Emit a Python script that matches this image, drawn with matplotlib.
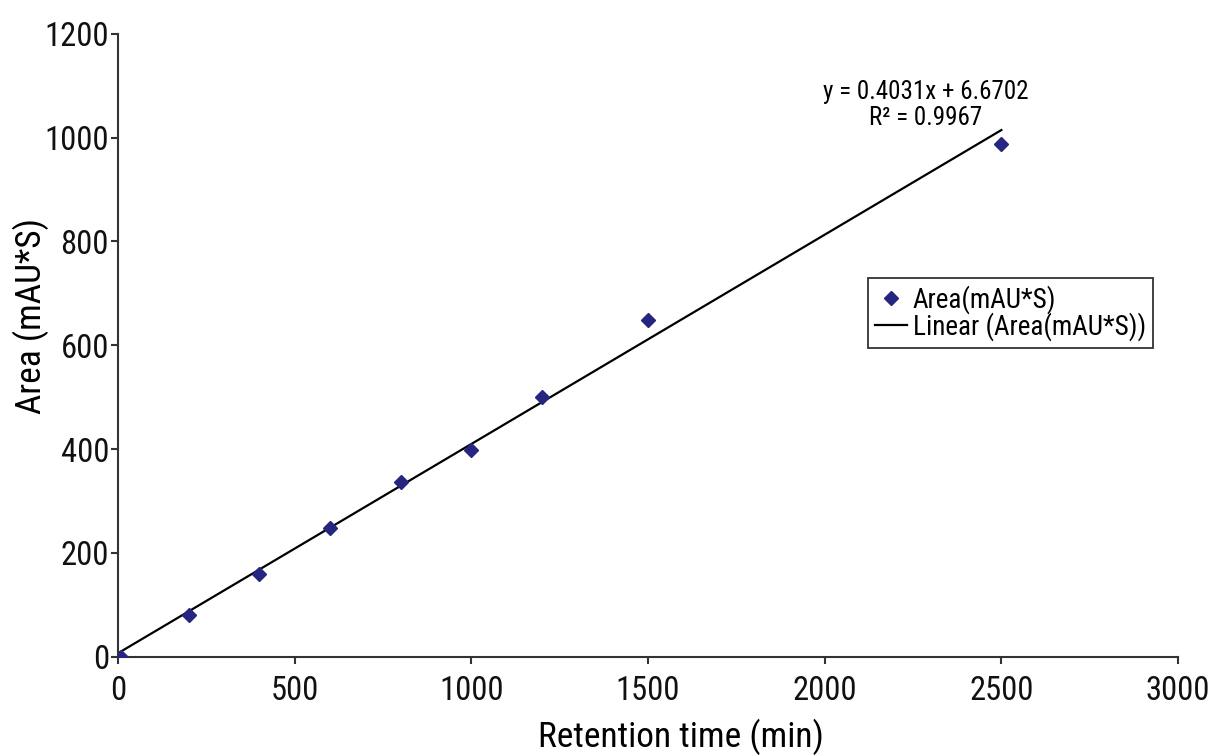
import matplotlib
matplotlib.use('Agg')
import matplotlib.pyplot as plt
from matplotlib import font_manager
import numpy as np

retention = [10, 200, 400, 600, 800, 1000, 1200, 1500, 2500]
area = [0, 80, 160, 247, 337, 398, 500, 648, 988]
slope, intercept = 0.4031, 6.6702
x_ticks = [0, 500, 1000, 1500, 2000, 2500, 3000]
y_ticks = [0, 200, 400, 600, 800, 1000, 1200]

# condensed face like the original, if one is around
names = {f.name for f in font_manager.fontManager.ttflist}
wanted = ['Roboto Condensed', 'Archivo Narrow', 'PT Sans Narrow', 'Liberation Sans Narrow',
          'Fira Sans Condensed', 'IBM Plex Sans Condensed', 'Asap Condensed', 'Encode Sans Condensed']
fam = next((n for n in wanted if n in names), 'DejaVu Sans')
plt.rcParams['font.family'] = [fam, 'DejaVu Sans']

fig = plt.figure(figsize=(12.21, 7.56), dpi=100)
ax = fig.add_axes([0.0966, 0.1313, 0.8682, 0.8241])

ax.plot(retention, area, linestyle='none', marker='D', markersize=7.5,
        color='#262680', label='Area(mAU*S)', zorder=3)
xl = np.array([0, 2500])
ax.plot(xl, slope * xl + intercept, color='black', lw=1.6, label='Linear (Area(mAU*S))')

ax.set_xlim(0, 3000)
ax.set_ylim(0, 1200)
ax.set_xticks(x_ticks)
ax.set_yticks(y_ticks)
for s in ['top', 'right']:
    ax.spines[s].set_visible(False)
for s in ['left', 'bottom']:
    ax.spines[s].set_linewidth(1.5)
    ax.spines[s].set_color('#333333')
ax.tick_params(direction='out', length=5, width=1.5, labelsize=23.5,
               color='#333333', labelcolor='#111111')
ax.tick_params(axis='x', pad=8)
ax.tick_params(axis='y', pad=1.5)
ax.set_xlabel('Retention time (min)', fontsize=25.5)
ax.set_ylabel('Area (mAU*S)', fontsize=25.5)
ax.xaxis.set_label_coords(0.531, -0.1)
ax.yaxis.set_label_coords(-0.065, 0.547)

ax.text(2285, 1063, 'y = 0.4031x + 6.6702\nR² = 0.9967', fontsize=18,
        ha='center', va='center', multialignment='center', linespacing=1.1)

leg = ax.legend(loc='upper left', bbox_to_anchor=(868 / 1221, 1 - 278 / 756),
                bbox_transform=fig.transFigure, fontsize=19.5, frameon=True,
                fancybox=False, edgecolor='black', handlelength=1.2,
                handletextpad=0.2, borderpad=0.25, labelspacing=-0.05,
                borderaxespad=0)
leg.get_frame().set_linewidth(1.3)

fig.savefig('out.png', dpi=100)
